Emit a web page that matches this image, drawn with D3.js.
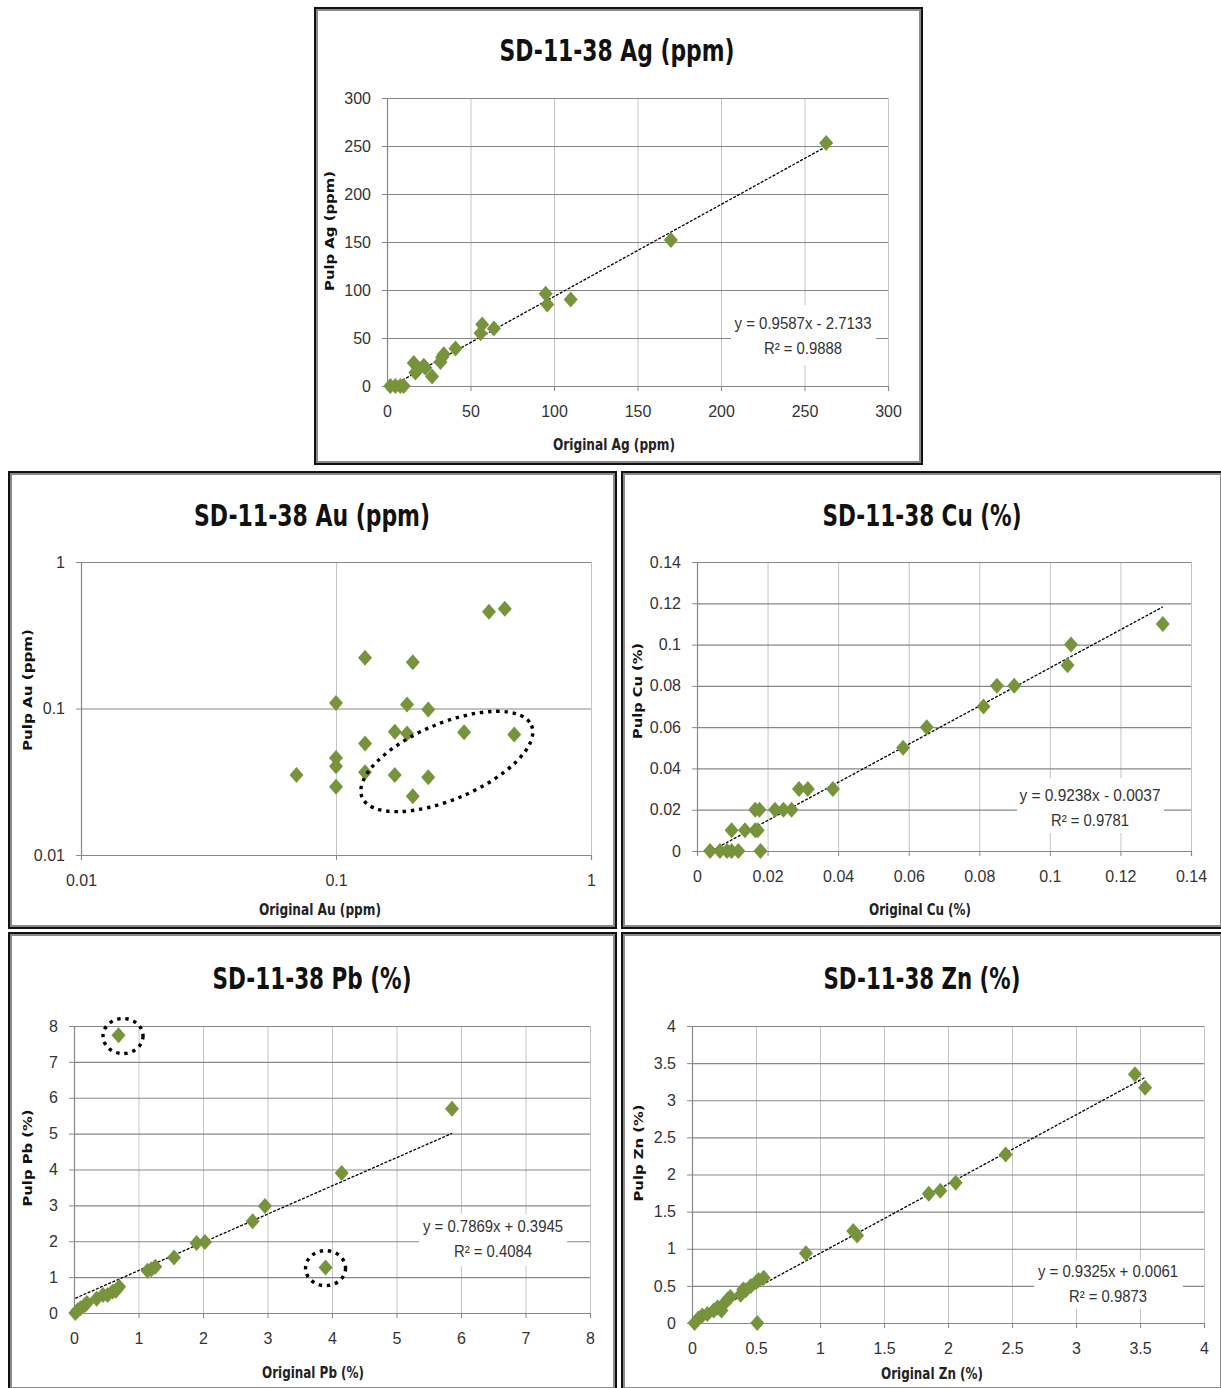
<!DOCTYPE html>
<html><head><meta charset="utf-8">
<script src="https://cdn.jsdelivr.net/npm/d3@7"></script>
<style>body{margin:0;background:#fff}svg{display:block}</style>
</head><body>
<svg id="c" width="1221" height="1388"></svg>
<script>
// ---------- DATA ----------
const agOriginal = [2,5,8,10,16,17,19,22,23,27,32,33,34,41,56,57,64,95,96,110,170,263];
const agPulp     = [0,0,0,0,24,14,18,21,19,10,25,30,33,39,55,64,60,96,85,90,152,253];
const agTicks    = [0,50,100,150,200,250,300];
const agTrend    = {slope:0.9587, intercept:-2.7133};
const agLabels   = ["y = 0.9587x - 2.7133","R² = 0.9888"];

const auOriginal = [0.398,0.459,0.130,0.200,0.100,0.190,0.230,0.170,0.190,0.318,0.500,0.130,0.100,0.100,0.070,0.130,0.170,0.230,0.100,0.200];
const auPulp     = [0.457,0.479,0.222,0.207,0.109,0.1065,0.0984,0.0693,0.0675,0.0689,0.0664,0.0577,0.046,0.0404,0.0351,0.0367,0.0351,0.034,0.0292,0.0252];
const auTicks    = [0.01,0.1,1];
const auEllipse  = [{cx:0.272, cy:0.0435}];

const cuOriginal = [0.0037,0.0065,0.0085,0.0098,0.0117,0.018,0.0098,0.0136,0.0165,0.0172,0.0165,0.0177,0.0221,0.0245,0.0268,0.0289,0.0314,0.0385,0.0584,0.0651,0.0812,0.085,0.0899,0.105,0.106,0.132];
const cuPulp     = [0,0,0,0,0,0,0.01,0.01,0.01,0.01,0.02,0.02,0.02,0.02,0.02,0.03,0.03,0.03,0.05,0.06,0.07,0.08,0.08,0.09,0.10,0.11];
const cuTicks    = [0,0.02,0.04,0.06,0.08,0.1,0.12,0.14];
const cuTrend    = {slope:0.9238, intercept:-0.0037};
const cuLabels   = ["y = 0.9238x - 0.0037","R² = 0.9781"];

const pbOriginal = [0.02,0.06,0.1,0.17,0.2,0.35,0.45,0.52,0.6,0.65,0.7,0.69,1.14,1.2,1.26,1.55,1.9,2.03,2.77,2.96,3.9,4.15,5.86];
const pbPulp     = [0.0,0.08,0.13,0.22,0.28,0.4,0.5,0.5,0.6,0.62,0.73,7.74,1.18,1.22,1.29,1.55,1.95,1.98,2.56,2.98,1.27,3.9,5.69];
const pbTicks    = [0,1,2,3,4,5,6,7,8];
const pbTrend    = {slope:0.7869, intercept:0.3945};
const pbLabels   = ["y = 0.7869x + 0.3945","R² = 0.4084"];
const pbCircles  = [{cx:0.76, cy:7.72},{cx:3.9, cy:1.25}];

const znOriginal = [0.02,0.05,0.08,0.12,0.17,0.2,0.23,0.25,0.28,0.3,0.38,0.4,0.42,0.46,0.5,0.52,0.56,0.51,0.89,1.26,1.29,1.85,1.94,2.06,2.45,3.46,3.54];
const znPulp     = [0.0,0.06,0.1,0.12,0.17,0.21,0.17,0.26,0.32,0.35,0.38,0.45,0.44,0.5,0.55,0.58,0.61,0.0,0.94,1.24,1.18,1.74,1.78,1.89,2.27,3.35,3.17];
const znTicks    = [0,0.5,1,1.5,2,2.5,3,3.5,4];
const znTrend    = {slope:0.9325, intercept:0.0061};
const znLabels   = ["y = 0.9325x + 0.0061","R² = 0.9873"];

// ---------- LAYOUT / STYLE ----------
const NARROW = "'Liberation Sans Narrow','DejaVu Sans Condensed','Arial Narrow',sans-serif";
const TICKFONT = "'Liberation Sans',Arial,sans-serif";
const GREEN = "#77933C";
const svg = d3.select("#c");
svg.append("rect").attr("width",1221).attr("height",1388).attr("fill","#fff");

const panels = [
 {title:"SD-11-38 Ag (ppm)", xTitle:"Original Ag (ppm)", yTitle:"Pulp Ag (ppm)",
  box:[314,7,609,458], plot:[387,98,888,386], log:false, orig:agOriginal, pulp:agPulp, ticks:agTicks,
  trend:agTrend, labels:agLabels, labelBox:[731,305,145,60], labelX:803, labelY:[329,354], labelW:[137,78],
  titleX:617, titleY:61, titleW:235, xtX:614, xtY:450, xtW:122, ytX:334, ytY:231, ytW:120},
 {title:"SD-11-38 Au (ppm)", xTitle:"Original Au (ppm)", yTitle:"Pulp Au (ppm)",
  box:[8,471,609,458], plot:[81,562,591,855], log:true, orig:auOriginal, pulp:auPulp, ticks:auTicks,
  ellipses:auEllipse,
  titleX:312, titleY:526, titleW:236, xtX:320, xtY:915, xtW:122, ytX:32, ytY:690, ytW:122},
 {title:"SD-11-38 Cu (%)", xTitle:"Original Cu (%)", yTitle:"Pulp Cu (%)",
  box:[621,471,603,458], plot:[697,562,1191,851], log:false, orig:cuOriginal, pulp:cuPulp, ticks:cuTicks,
  trend:cuTrend, labels:cuLabels, labelBox:[1017,778,147,55], labelX:1090, labelY:[801,826], labelW:[141,78],
  titleX:922, titleY:526, titleW:199, xtX:920, xtY:915, xtW:102, ytX:642, ytY:691, ytW:96},
 {title:"SD-11-38 Pb (%)", xTitle:"Original Pb (%)", yTitle:"Pulp Pb (%)",
  box:[8,932,609,459], plot:[74,1026,590,1313], log:false, orig:pbOriginal, pulp:pbPulp, ticks:pbTicks,
  trend:pbTrend, labels:pbLabels, labelBox:[419,1214,148,52], labelX:493, labelY:[1232,1257], labelW:[140,78],
  circles:pbCircles,
  titleX:312, titleY:989, titleW:199, xtX:313, xtY:1378, xtW:102, ytX:32, ytY:1158, ytW:97},
 {title:"SD-11-38 Zn (%)", xTitle:"Original Zn (%)", yTitle:"Pulp Zn (%)",
  box:[621,932,603,459], plot:[692,1026,1204,1323], log:false, orig:znOriginal, pulp:znPulp, ticks:znTicks,
  trend:znTrend, labels:znLabels, labelBox:[1034,1261,149,48], labelX:1108, labelY:[1277,1302], labelW:[140,78],
  titleX:922, titleY:989, titleW:197, xtX:932, xtY:1379, xtW:102, ytX:643, ytY:1153, ytW:97}
];

const fmt = d => String(+(+d).toFixed(4));
const diamond = "M0,-8L7,0L0,8L-7,0Z";

panels.forEach(p => {
  const g = svg.append("g");
  const [bx,by,bw,bh] = p.box;
  g.append("rect").attr("x",bx+1).attr("y",by+1).attr("width",bw-2).attr("height",bh-2)
    .attr("fill","#fff").attr("stroke","#111").attr("stroke-width",2);
  g.append("rect").attr("x",bx+3).attr("y",by+3).attr("width",bw-6).attr("height",bh-6)
    .attr("fill","none").attr("stroke","#8a8a8a").attr("stroke-width",2);

  const [px0,py0,px1,py1] = p.plot;
  const dom = d3.extent(p.ticks);
  const x = (p.log ? d3.scaleLog() : d3.scaleLinear()).domain(dom).range([px0,px1]);
  const y = (p.log ? d3.scaleLog() : d3.scaleLinear()).domain(dom).range([py1,py0]);

  // vertical gridlines
  g.append("g").attr("transform",`translate(0,${py1})`)
    .call(d3.axisBottom(x).tickValues(p.ticks.slice(1)).tickSize(-(py1-py0)).tickFormat(""))
    .call(a => { a.select(".domain").remove(); a.selectAll("line").attr("stroke","#c4c4c4").attr("stroke-width",1); });
  // horizontal gridlines
  g.append("g").attr("transform",`translate(${px0},0)`)
    .call(d3.axisLeft(y).tickValues(p.ticks.slice(1)).tickSize(-(px1-px0)).tickFormat(""))
    .call(a => { a.select(".domain").remove(); a.selectAll("line").attr("stroke","#878787").attr("stroke-width",1.2); });

  // axes
  g.append("g").attr("transform",`translate(0,${py1})`)
    .call(d3.axisBottom(x).tickValues(p.ticks).tickSize(5).tickPadding(15).tickFormat(fmt))
    .call(a => { a.select(".domain").attr("stroke","#878787").attr("stroke-width",1.2);
      a.selectAll("line").attr("stroke","#878787");
      a.selectAll("text").attr("font-family",TICKFONT).attr("font-size",16).attr("fill","#333"); });
  g.append("g").attr("transform",`translate(${px0},0)`)
    .call(d3.axisLeft(y).tickValues(p.ticks).tickSize(5).tickPadding(11).tickFormat(fmt))
    .call(a => { a.select(".domain").attr("stroke","#878787").attr("stroke-width",1.2);
      a.selectAll("line").attr("stroke","#878787");
      a.selectAll("text").attr("font-family",TICKFONT).attr("font-size",16).attr("fill","#333"); });

  // trendline
  if (p.trend) {
    const xs = d3.extent(p.orig);
    g.append("line")
      .attr("x1",x(xs[0])).attr("y1",y(p.trend.slope*xs[0]+p.trend.intercept))
      .attr("x2",x(xs[1])).attr("y2",y(p.trend.slope*xs[1]+p.trend.intercept))
      .attr("stroke","#000").attr("stroke-width",1.3).attr("stroke-dasharray","3,1.5");
  }

  // markers
  g.append("g").selectAll("path").data(p.orig.map((v,i)=>[v,p.pulp[i]])).join("path")
    .attr("d",diamond).attr("fill",GREEN)
    .attr("transform",d=>`translate(${x(d[0])},${y(d[1])})`);

  // trend labels
  if (p.labels) {
    const [lx,ly,lw,lh] = p.labelBox;
    g.append("rect").attr("x",lx).attr("y",ly).attr("width",lw).attr("height",lh).attr("fill","#fff");
    p.labels.forEach((t,i)=> g.append("text").attr("x",p.labelX).attr("y",p.labelY[i])
      .attr("text-anchor","middle").attr("font-family",TICKFONT).attr("font-size",16).attr("fill","#333")
      .attr("textLength",p.labelW[i]).attr("lengthAdjust","spacingAndGlyphs").text(t));
  }

  // annotations
  const dotted = s => s.attr("fill","none").attr("stroke","#000").attr("stroke-width",3.4)
      .attr("stroke-dasharray","3.4,4.8");
  (p.ellipses||[]).forEach(e => {
    g.append("ellipse").attr("cx",0).attr("cy",0).attr("rx",92).attr("ry",38)
      .attr("transform",`translate(${x(e.cx)},${y(e.cy)}) rotate(-23)`).call(dotted);
  });
  (p.circles||[]).forEach(c => {
    g.append("ellipse").attr("cx",x(c.cx)).attr("cy",y(c.cy)).attr("rx",20).attr("ry",17.5).call(dotted);
  });

  // titles
  g.append("text").attr("x",p.titleX).attr("y",p.titleY).attr("text-anchor","middle")
    .attr("font-family",NARROW).attr("font-weight","bold").attr("font-size",30).attr("fill","#111")
    .attr("textLength",p.titleW).attr("lengthAdjust","spacingAndGlyphs").text(p.title);
  g.append("text").attr("x",p.xtX).attr("y",p.xtY).attr("text-anchor","middle")
    .attr("font-family",NARROW).attr("font-weight","bold").attr("font-size",16).attr("fill","#222")
    .attr("textLength",p.xtW).attr("lengthAdjust","spacingAndGlyphs").text(p.xTitle);
  g.append("text").attr("transform",`translate(${p.ytX},${p.ytY}) rotate(-90)`).attr("text-anchor","middle")
    .attr("font-family","'DejaVu Sans',sans-serif").attr("font-weight","bold").attr("font-size",13).attr("fill","#111")
    .attr("textLength",p.ytW).attr("lengthAdjust","spacingAndGlyphs").text(p.yTitle);
});
</script>
</body></html>
